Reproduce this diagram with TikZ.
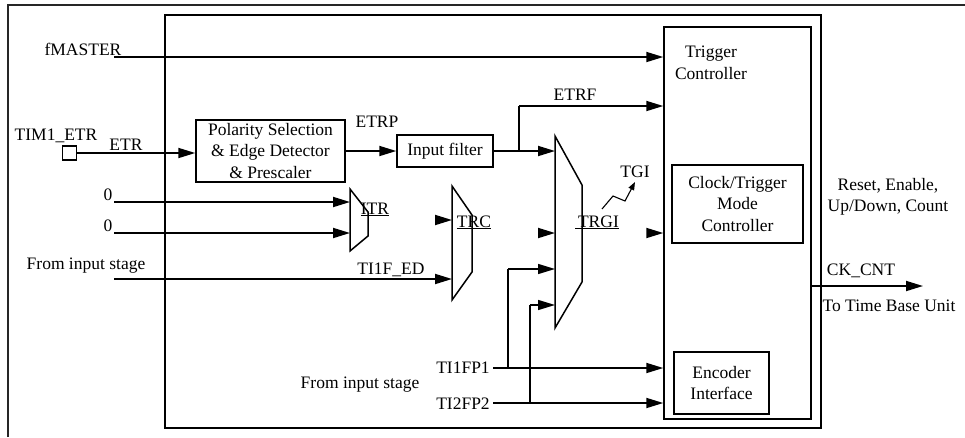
\documentclass[tikz,border=0pt]{standalone}
\usepackage{fontspec}
\setmainfont{Liberation Serif}
\usetikzlibrary{arrows.meta}
\begin{document}
\begin{tikzpicture}[x=1pt,y=-1pt,
  every node/.style={font=\fontsize{17.5}{21.5}\selectfont, inner sep=0pt, text=black},
  lbl/.style={anchor=base},
  box/.style={draw, line width=1.5pt, align=center},
  sig/.style={line width=1.8pt, -{Triangle[length=17pt,width=10pt]}},
  wire/.style={line width=1.8pt},
  thin/.style={line width=1.4pt},
  mux/.style={line width=1.5pt, line join=miter},
  tipstyle/.style={line width=1.8pt, -{Triangle[length=17pt,width=10pt]}},
]
\useasboundingbox (0,0) rectangle (965,437);
% outer frame
\draw[line width=2pt, black!85] (8,437) -- (8,5) -- (965,5);
% inner block
\node[draw, line width=1.5pt, minimum width=656pt, minimum height=413pt] (blk) at (493,221.5) {};
% boxes
\node[box, minimum width=147pt, minimum height=392pt] (trig) at (737.5,223) {};
\node[align=center] (trigtxt) at (711,63) {Trigger\\Controller};
\node[box, minimum width=131pt, minimum height=78pt] (ctm) at (737.5,204) {Clock/Trigger\\Mode\\Controller};
\node[box, minimum width=95pt, minimum height=62pt] (enc) at (721.5,383) {Encoder\\Interface};
\node[box, minimum width=149pt, minimum height=62pt] (pol) at (270.5,151) {Polarity Selection\\\& Edge Detector\\\& Prescaler};
\node[box, minimum width=96pt, minimum height=32pt] (filt) at (445,151) {Input filter};
\node[draw, line width=1.5pt, minimum size=14pt] (pad) at (69.5,153) {};

% muxes
\coordinate (iA) at (350,189); \coordinate (iB) at (368,212);
\coordinate (iC) at (368,236); \coordinate (iD) at (350,251);
\draw[mux] (iA) -- (iB) -- (iC) -- (iD) -- cycle;
\coordinate (cA) at (452,186); \coordinate (cB) at (472,215);
\coordinate (cC) at (472,272); \coordinate (cD) at (452,300);
\draw[mux] (cA) -- (cB) -- (cC) -- (cD) -- cycle;
\coordinate (gA) at (555,136); \coordinate (gB) at (582,185);
\coordinate (gC) at (582,282); \coordinate (gD) at (555,328);
\draw[mux] (gA) -- (gB) -- (gC) -- (gD) -- cycle;

% labels
\node[lbl] (lfm) at (83,55) {fMASTER};
\node[lbl] (ltim) at (56,140) {TIM1\_ETR};
\node[lbl] (letr) at (126,150) {ETR};
\node[lbl] (letrp) at (377,127) {ETRP};
\node[lbl] (letrf) at (575,100) {ETRF};
\node[lbl] (lz1) at (108,200) {0};
\node[lbl] (lz2) at (108,231) {0};
\node[lbl] (lfis1) at (86,269) {From input stage};
\node[lbl] (lti1f) at (391,274) {TI1F\_ED};
\node[lbl] (litr) at (375,214) {\underline{ITR}};
\node[lbl] (ltrc) at (474,227) {\underline{TRC}};
\node[lbl] (ltrgi) at (597,227) {\underline{\,TRGI}};
\node[lbl] (ltgi) at (635,177) {TGI};
\node[lbl] (lp1) at (463,373) {TI1FP1};
\node[lbl] (lp2) at (463,409) {TI2FP2};
\node[lbl] (lfis2) at (360,388) {From input stage};
\node[align=center] (lres) at (888,197) {Reset, Enable,\\Up/Down, Count};
\node[lbl] (lck) at (861,275) {CK\_CNT};
\node[lbl] (lttb) at (889,311) {To Time Base Unit};

% connectors
\coordinate (fmin) at (114,57);
\draw[sig] (fmin) -- (fmin -| trig.west);
\draw[sig] (pad.east) -- (pad.east -| pol.west);
\draw[sig] (pol.east |- filt.west) -- (filt.west);
\draw[sig] (filt.east) -- (filt.east -| gA);
\coordinate (etrf) at (519,151);
\coordinate (etrftop) at (519,106);
\draw[thin] (etrf) -- (etrftop);
\draw[sig] (etrftop) -- (etrftop -| trig.west);
\coordinate (z1) at (114,202);
\coordinate (z2) at (114,233);
\draw[sig] (z1) -- (z1 -| iA);
\draw[sig] (z2) -- (z2 -| iA);
\coordinate (ted) at (114,279);
\draw[sig] (ted) -- (ted -| cA);
% stand-alone arrowheads
\coordinate (itro) at (435,220);
\draw[tipstyle] (itro) -- (itro -| cA);
\coordinate (trco) at (538,233);
\draw[tipstyle] (trco) -- (trco -| gA);
\coordinate (trgio) at (647,233);
\draw[tipstyle] (trgio) -- (trgio -| trig.west);
% TI1FP1 / TI2FP2
\coordinate (p1) at (493,368);
\coordinate (p2) at (493,403);
\draw[sig] (p1) -- (p1 -| trig.west);
\draw[sig] (p2) -- (p2 -| trig.west);
\coordinate (b1) at (508,368);
\coordinate (b2) at (530,403);
\coordinate (g3) at (555,269);
\coordinate (g4) at (555,305);
\draw[thin] (b1) -- (b1 |- g3);
\draw[sig, line width=1.4pt] (b1 |- g3) -- (g3);
\draw[thin] (b2) -- (b2 |- g4);
\draw[sig, line width=1.4pt] (b2 |- g4) -- (g4);
% CK_CNT
\coordinate (cko) at (923,286);
\draw[sig] (cko -| trig.east) -- (cko);
% TGI zigzag
\coordinate (z0) at (602,209);
\coordinate (za) at (613,196);
\coordinate (zb) at (625,201);
\coordinate (zc) at (635,182);
\draw[line width=1.1pt, -{Triangle[length=8pt,width=6pt]}] (z0) -- (za) -- (zb) -- (zc);
\end{tikzpicture}
\end{document}
